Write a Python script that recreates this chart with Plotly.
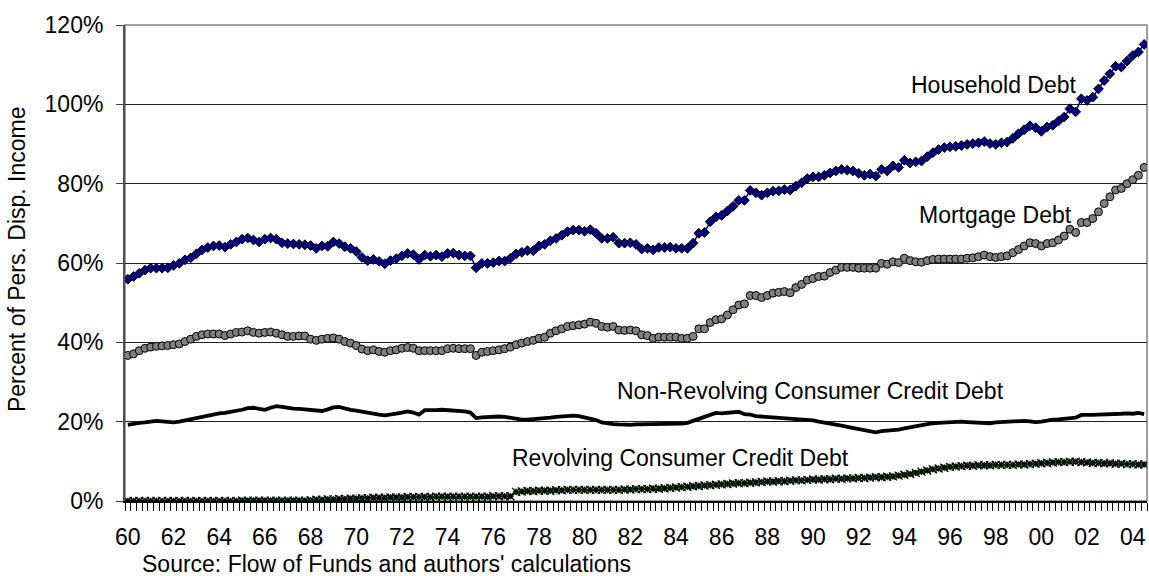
import plotly.graph_objects as go

# Quarterly data, 1960Q1 .. 2004Q3 (percent of personal disposable income)
household_debt = [
    55.9, 56.6, 57.4, 58.2, 58.7, 58.7, 58.7, 58.8, 59.4, 59.9, 60.8, 61.3,
    62.3, 63.3, 63.9, 64.3, 64.4, 64.0, 64.7, 65.3, 66.0, 66.3, 65.8, 65.3,
    66.0, 66.3, 66.0, 65.1, 64.9, 64.8, 64.7, 64.6, 64.4, 63.7, 64.3, 64.2,
    65.3, 64.9, 64.1, 63.7, 62.9, 61.4, 60.6, 60.9, 60.4, 59.8, 60.6, 61.1,
    61.8, 62.4, 62.1, 60.9, 62.0, 61.7, 62.0, 61.6, 62.4, 62.5, 62.0, 61.8,
    61.8, 58.8, 59.9, 59.9, 60.1, 60.5, 60.5, 61.2, 62.3, 62.7, 63.1, 63.1,
    64.3, 64.7, 65.6, 66.2, 67.0, 67.9, 68.3, 68.3, 68.0, 68.4, 67.5, 66.2,
    66.2, 66.5, 65.0, 65.0, 65.1, 64.7, 63.5, 63.7, 63.3, 63.9, 63.9, 64.0,
    63.7, 63.7, 63.7, 65.0, 67.5, 67.7, 70.4, 71.6, 72.0, 73.1, 74.3, 75.8,
    75.8, 78.3, 77.7, 77.1, 77.7, 78.1, 78.2, 78.5, 78.4, 79.4, 80.2, 81.3,
    81.7, 81.7, 82.1, 82.7, 83.2, 83.6, 83.4, 83.2, 82.6, 82.1, 82.4, 81.9,
    83.6, 83.2, 84.5, 84.1, 85.9, 85.2, 85.5, 85.7, 86.8, 87.8, 88.6, 89.1,
    89.3, 89.4, 89.6, 89.9, 90.1, 90.3, 90.6, 90.1, 89.9, 90.3, 90.5, 91.4,
    92.6, 93.6, 94.6, 94.1, 93.2, 94.3, 94.7, 95.8, 96.8, 98.9, 98.1, 101.4,
    101.0, 101.8, 103.9, 106.0, 107.7, 109.6, 109.4, 110.9, 112.3, 113.2, 115.1,
]

mortgage_debt = [
    36.7, 37.1, 37.9, 38.5, 38.8, 39.0, 39.1, 39.2, 39.4, 39.6, 40.2, 40.8,
    41.5, 41.9, 42.1, 42.1, 42.1, 41.7, 42.1, 42.5, 42.6, 42.9, 42.5, 42.3,
    42.5, 42.6, 42.3, 41.9, 41.5, 41.5, 41.6, 41.6, 40.8, 40.5, 40.8, 41.0,
    41.1, 40.8, 40.2, 39.8, 39.2, 38.3, 37.9, 38.1, 37.7, 37.5, 37.9, 38.1,
    38.5, 38.7, 38.5, 37.9, 37.9, 37.9, 37.9, 37.9, 38.4, 38.5, 38.4, 38.4,
    38.4, 36.7, 37.5, 37.7, 37.9, 38.1, 38.4, 38.8, 39.4, 39.8, 40.2, 40.5,
    41.0, 41.3, 42.3, 42.9, 43.4, 44.0, 44.2, 44.4, 44.6, 45.1, 44.8, 44.0,
    43.8, 44.0, 43.1, 43.0, 43.1, 42.9, 41.9, 41.7, 41.0, 41.3, 41.3, 41.3,
    41.3, 41.0, 41.0, 41.5, 43.4, 43.4, 45.0, 45.7, 45.9, 46.9, 48.2, 49.4,
    49.7, 51.8, 51.8, 51.3, 51.8, 52.4, 52.6, 52.8, 52.5, 53.8, 54.6, 55.7,
    56.1, 56.6, 56.7, 57.6, 58.2, 58.9, 58.9, 58.9, 58.7, 58.7, 58.7, 58.7,
    59.9, 59.7, 60.3, 60.1, 61.2, 60.6, 60.3, 60.2, 60.6, 60.9, 61.0, 61.0,
    61.0, 61.0, 61.0, 61.2, 61.3, 61.6, 62.0, 61.6, 61.4, 61.6, 61.8, 62.6,
    63.4, 64.3, 65.1, 64.9, 64.3, 64.9, 65.1, 65.8, 66.8, 68.5, 67.7, 70.2,
    70.2, 71.2, 72.9, 75.0, 76.7, 78.4, 78.8, 80.0, 81.0, 82.1, 84.1,
]

nonrevolving_debt = [
    19.2, 19.5, 19.7, 19.8, 20.0, 20.2, 20.1, 19.9, 19.8, 20.0, 20.3, 20.6,
    21.0, 21.3, 21.6, 21.9, 22.1, 22.2, 22.4, 22.7, 23.0, 23.4, 23.5, 23.2,
    23.0, 23.5, 23.9, 23.7, 23.4, 23.3, 23.2, 23.1, 23.0, 22.9, 22.7, 23.1,
    23.6, 23.7, 23.3, 23.0, 22.8, 22.5, 22.2, 22.0, 21.8, 21.6, 21.7, 22.0,
    22.3, 22.6, 22.3, 21.8, 22.9, 22.8, 22.9, 23.0, 22.9, 22.8, 22.9, 22.6,
    22.3, 20.9, 21.1, 21.2, 21.3, 21.3, 21.2, 21.0, 20.6, 20.5, 20.5, 20.6,
    20.6, 20.8, 21.0, 21.2, 21.3, 21.5, 21.5, 21.4, 21.1, 20.9, 20.4, 19.8,
    19.5, 19.4, 19.3, 19.2, 19.2, 19.3, 19.3, 19.4, 19.3, 19.3, 19.4, 19.3,
    19.5, 19.5, 19.7, 20.1, 20.7, 21.2, 21.8, 22.2, 22.1, 22.2, 22.3, 22.5,
    21.9, 21.8, 21.4, 21.3, 21.1, 21.0, 21.0, 20.9, 20.8, 20.8, 20.7, 20.5,
    20.3, 20.0, 19.8, 19.5, 19.2, 19.0, 18.7, 18.4, 18.1, 17.8, 17.5, 17.3,
    17.6, 17.7, 17.9, 18.0, 18.3, 18.6, 18.9, 19.2, 19.4, 19.6, 19.7, 19.8,
    19.9, 19.9, 20.0, 19.9, 19.8, 19.7, 19.6, 19.6, 19.8, 19.9, 20.0, 20.1,
    20.2, 20.2, 20.1, 19.9, 20.0, 20.3, 20.5, 20.6, 20.8, 20.9, 21.0, 21.7,
    21.6, 21.7, 21.8, 21.8, 21.9, 22.0, 22.0, 22.1, 22.0, 22.2, 21.9,
]

revolving_debt = [
    0.0, 0.0, 0.0, 0.0, 0.0, 0.0, 0.0, 0.0, 0.0, 0.0, 0.0, 0.0,
    0.0, 0.0, 0.0, 0.0, 0.0, 0.0, 0.0, 0.0, 0.1, 0.1, 0.1, 0.1,
    0.1, 0.1, 0.1, 0.1, 0.1, 0.1, 0.1, 0.1, 0.2, 0.3, 0.3, 0.4,
    0.4, 0.5, 0.5, 0.6, 0.6, 0.7, 0.7, 0.8, 0.8, 0.8, 0.9, 0.9,
    0.9, 1.0, 1.0, 1.0, 1.0, 1.0, 1.1, 1.1, 1.1, 1.1, 1.1, 1.1,
    1.1, 1.1, 1.1, 1.1, 1.2, 1.2, 1.2, 1.2, 2.3, 2.4, 2.5, 2.5,
    2.6, 2.6, 2.6, 2.7, 2.7, 2.8, 2.8, 2.8, 2.8, 2.8, 2.8, 2.8,
    2.8, 2.8, 2.8, 2.9, 2.9, 3.0, 3.0, 3.0, 3.1, 3.1, 3.2, 3.3,
    3.4, 3.5, 3.6, 3.7, 3.8, 3.9, 4.0, 4.1, 4.2, 4.3, 4.4, 4.5,
    4.5, 4.6, 4.7, 4.8, 4.9, 4.9, 5.0, 5.0, 5.1, 5.2, 5.2, 5.3,
    5.4, 5.4, 5.5, 5.5, 5.6, 5.6, 5.7, 5.7, 5.8, 5.8, 5.9, 6.0,
    6.0, 6.1, 6.2, 6.4, 6.6, 6.8, 7.1, 7.4, 7.7, 8.0, 8.2, 8.4,
    8.6, 8.7, 8.8, 8.9, 8.9, 9.0, 9.0, 9.0, 9.1, 9.1, 9.1, 9.1,
    9.2, 9.2, 9.3, 9.4, 9.5, 9.6, 9.7, 9.8, 9.8, 9.9, 9.9, 9.8,
    9.7, 9.6, 9.6, 9.5, 9.5, 9.4, 9.4, 9.3, 9.3, 9.2, 9.2,
]

tick_labels = ["60", "62", "64", "66", "68", "70", "72", "74", "76", "78", "80", "82",
               "84", "86", "88", "90", "92", "94", "96", "98", "00", "02", "04"]
y_ticks = [0, 20, 40, 60, 80, 100, 120]

n = len(household_debt)
x = list(range(n))  # quarter index from 1960Q1
tick_vals = [8 * k for k in range(len(tick_labels))]

FONT = "Liberation Sans, Arial, sans-serif"
FS = 23

fig = go.Figure()

fig.add_trace(go.Scatter(
    x=x, y=nonrevolving_debt, mode="lines",
    line=dict(color="black", width=3.8), name="Non-Revolving Consumer Credit Debt",
))
fig.add_trace(go.Scatter(
    x=x, y=revolving_debt, mode="lines+markers",
    line=dict(color="#003300", width=2),
    marker=dict(symbol="diamond", size=5.5, color="#003300", line=dict(width=0)),
    name="Revolving Consumer Credit Debt",
))
fig.add_trace(go.Scatter(
    x=x, y=revolving_debt, mode="markers",
    marker=dict(symbol="x-thin", size=8, line=dict(color="black", width=1.3)),
    showlegend=False, hoverinfo="skip",
))
fig.add_trace(go.Scatter(
    x=x, y=mortgage_debt, mode="lines+markers",
    line=dict(color="#808080", width=1),
    marker=dict(symbol="circle", size=8, color="#808080", line=dict(color="black", width=1)),
    name="Mortgage Debt",
))
fig.add_trace(go.Scatter(
    x=x, y=household_debt, mode="lines+markers",
    line=dict(color="#000080", width=1.5),
    marker=dict(symbol="diamond", size=7.5, color="#000080", line=dict(color="black", width=1)),
    name="Household Debt",
))

L, R, T, B = 125, 2, 24.5, 74.5
W, H = 1149, 576
pw = W - L - R
ph = H - T - B


def px(xp):
    return (xp - L) / pw


def py(yp):
    return (H - B - yp) / ph


annotations = [
    dict(text="Household Debt", x=px(909), y=py(85), xanchor="left", yanchor="middle"),
    dict(text="Mortgage Debt", x=px(917), y=py(215), xanchor="left", yanchor="middle"),
    dict(text="Non-Revolving Consumer Credit Debt", x=px(615), y=py(391), xanchor="left", yanchor="middle"),
    dict(text="Revolving Consumer Credit Debt", x=px(510), y=py(458), xanchor="left", yanchor="middle"),
    dict(text="Source: Flow of Funds and authors' calculations", x=px(140), y=py(565),
         xanchor="left", yanchor="middle"),
    dict(text="Percent of Pers. Disp. Income", x=px(17), y=py(259), xanchor="center",
         yanchor="middle", textangle=-90),
]
for a in annotations:
    a.update(xref="paper", yref="paper", showarrow=False, font=dict(family=FONT, size=FS, color="black"))

fig.update_layout(
    width=W, height=H,
    margin=dict(l=L, r=R, t=T, b=B, pad=0),
    paper_bgcolor="white", plot_bgcolor="white",
    showlegend=False,
    font=dict(family=FONT, size=FS, color="black"),
    annotations=annotations,
    shapes=[dict(type="rect", xref="paper", yref="paper", x0=0, x1=1, y0=0, y1=1,
                 line=dict(color="#808080", width=1.5), layer="below")],
)

fig.update_xaxes(
    range=[-0.5, n - 0.5],
    tickmode="array", tickvals=tick_vals, ticktext=tick_labels,
    ticks="", ticklabelstandoff=15,
    showgrid=False, zeroline=False,
    showline=True, linecolor="black", linewidth=1.5,
    minor=dict(ticks="outside", tick0=-0.5, dtick=1, ticklen=8, tickcolor="black",
               tickwidth=1, showgrid=False),
    tickfont=dict(family=FONT, size=FS, color="black"),
)
fig.update_yaxes(
    range=[0, 120],
    tickmode="array", tickvals=y_ticks, ticktext=[f"{v}%" for v in y_ticks],
    ticks="outside", ticklen=7, tickcolor="#404040", tickwidth=1,
    ticklabelstandoff=8,
    showgrid=True, gridcolor="#202020", gridwidth=1,
    zeroline=False,
    showline=True, linecolor="#505050", linewidth=2,
    tickfont=dict(family=FONT, size=FS, color="black"),
)

fig.write_html(
    "out.html",
    config={"displayModeBar": False},
    post_script="document.body.style.margin='0';document.body.style.padding='0';",
)
